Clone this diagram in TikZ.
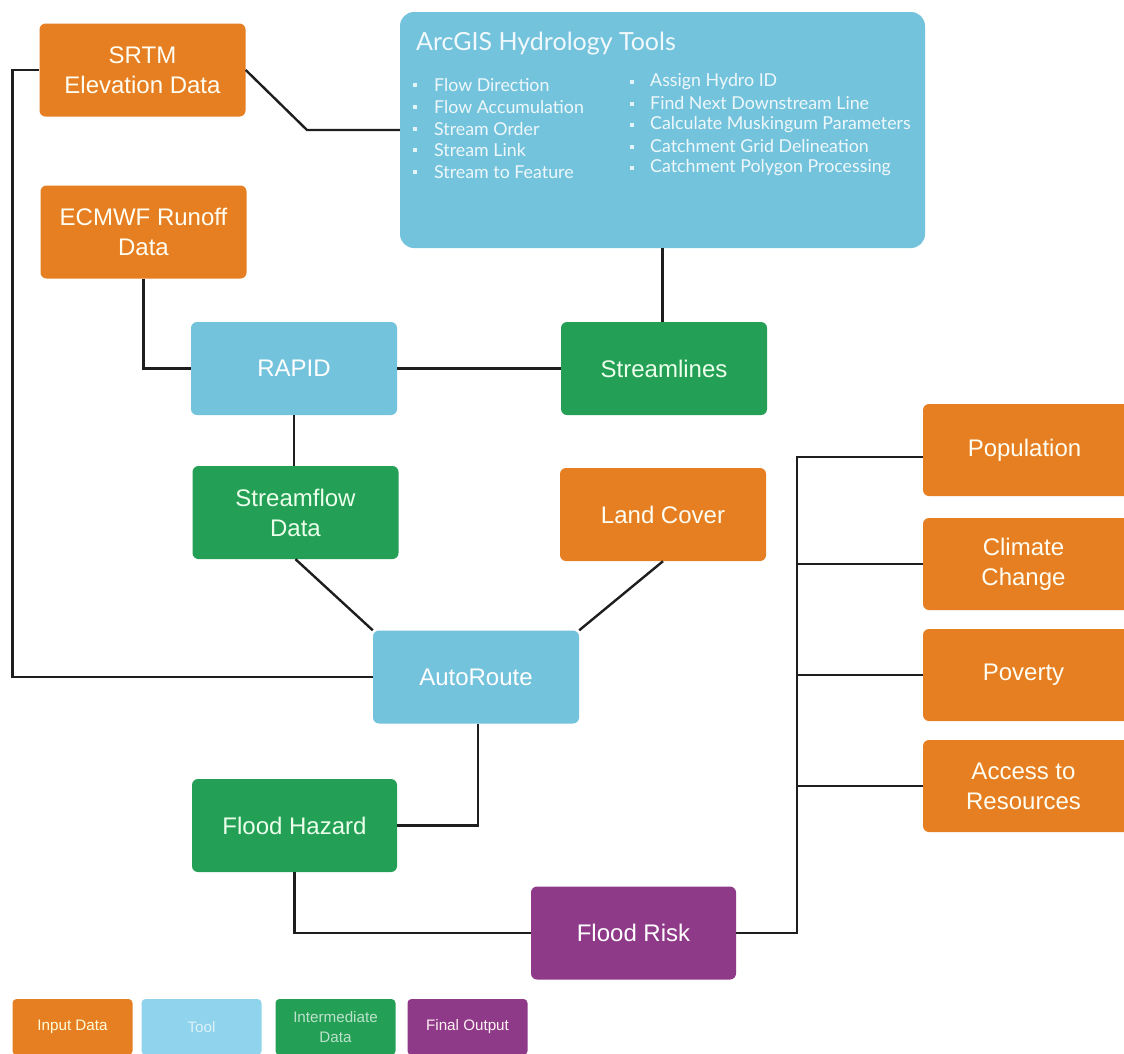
\documentclass[tikz,border=0pt]{standalone}
\usepackage{fontspec}
\setmainfont{Liberation Sans}
\newfontfamily\lato{Lato}
\usetikzlibrary{calc}
\definecolor{cOrange}{HTML}{E67E22}
\definecolor{cBlue}{HTML}{74C3DD}
\definecolor{cGreen}{HTML}{23A055}
\definecolor{cPurple}{HTML}{8E3A89}
\definecolor{cLegBlue}{HTML}{8FD3EC}
\definecolor{cLine}{HTML}{1E1E1E}
\tikzset{
  box/.style={rectangle, rounded corners=6pt, inner sep=0pt, align=center,
    minimum width=206pt, minimum height=93pt,
    font=\fontsize{24}{30}\selectfont},
  inbox/.style={box, fill=cOrange, text=white!95!yellow},
  toolbox/.style={box, fill=cBlue, text=white},
  midbox/.style={box, fill=cGreen, text=white!92!green},
  outbox/.style={box, fill=cPurple, text=white},
  legbox/.style={rectangle, rounded corners=4pt, inner sep=0pt, align=center,
    minimum width=120pt, minimum height=56pt, font=\fontsize{15.2}{20}\selectfont},
  item/.style={anchor=west, inner sep=0pt, text=white!88!cBlue,
    font=\lato\fontsize{17.8}{20}\selectfont},
  link/.style={draw=cLine, line width=2.4pt},
}
\begin{document}
\begin{tikzpicture}[x=1pt, y=-1pt]
\clip (0,0) rectangle (1124,1053);
\fill[white] (0,0) rectangle (1124,1053);

% nodes
\node[inbox] (srtm) at (142.5,70) {SRTM\\Elevation Data};
\node[inbox] (ecmwf) at (143.5,232) {ECMWF Runoff\\Data};
\node[toolbox, minimum width=525pt, minimum height=236pt, rounded corners=14pt] (arcgis) at (662.5,130) {};
\node[anchor=west, inner sep=0pt, text=white!90!cBlue, font=\lato\fontsize{25}{28}\selectfont] (arctitle) at (416,44) {ArcGIS Hydrology Tools};
\foreach \t [count=\i] in {Flow Direction, Flow Accumulation, Stream Order, Stream Link, Stream to Feature}{
  \fill[white!80!cBlue] (413,{61.5+21.7*\i}) rectangle ++(4,4);
  \node[item] (la\i) at (434,{63.5+21.7*\i}) {\t};
}
\foreach \t [count=\i] in {Assign Hydro ID, Find Next Downstream Line, Calculate Muskingum Parameters, Catchment Grid Delineation, Catchment Polygon Processing}{
  \fill[white!80!cBlue] (630,{58.5+21.5*\i}) rectangle ++(4,4);
  \node[item] (lb\i) at (650,{60.5+21.5*\i}) {\t};
}
\node[toolbox] (rapid) at (294,368.5) {RAPID};
\node[midbox] (streamlines) at (664,368.5) {Streamlines};
\node[midbox] (streamflow) at (295.5,512.5) {Streamflow\\Data};
\node[inbox] (landcover) at (663,514.5) {Land Cover};
\node[toolbox] (autoroute) at (476,677) {AutoRoute};
\node[midbox, minimum width=205pt] (floodhazard) at (294.5,825.5) {Flood Hazard};
\node[outbox, minimum width=205pt] (floodrisk) at (633.5,933) {Flood Risk};
\node[inbox, minimum width=207pt, minimum height=92pt] (population) at (1026.5,450) {\hspace*{-4pt}Population};
\node[inbox, minimum width=207pt, minimum height=92pt] (climate) at (1026.5,564) {\hspace*{-6pt}Climate\\\hspace*{-6pt}Change};
\node[inbox, minimum width=207pt, minimum height=92pt] (poverty) at (1026.5,675) {\hspace*{-6pt}Poverty};
\node[inbox, minimum width=207pt, minimum height=92pt] (access) at (1026.5,786) {\hspace*{-6pt}Access to\\\hspace*{-6pt}Resources};

% legend
\node[legbox, fill=cOrange, text=white!85!yellow] (legin) at (72.5,1027) {Input Data};
\node[legbox, fill=cLegBlue, text=white!70!cLegBlue] (legtool) at (201.5,1027) {Tool};
\node[legbox, fill=cGreen, text=white!70!cGreen] (legmid) at (335.5,1027) {Intermediate\\Data};
\node[legbox, fill=cPurple, text=white!80!pink] (legout) at (467.5,1027) {Final Output};

% connectors
\coordinate (kneeS) at (307,130);
\coordinate (bus) at (797,457);
\draw[link] (srtm.west) -- ++(-27,0) |- (autoroute.west);
\draw[link] (srtm.east) -- (kneeS) -- (arcgis.west);
\draw[link] (arcgis.south) -- (arcgis.south |- streamlines.north);
\draw[link] (ecmwf.south) |- (rapid.west);
\draw[link] (rapid.east) -- (streamlines.west);
\draw[link] (rapid.south) -- (rapid.south |- streamflow.north);
\draw[link] (streamflow.south) -- (autoroute.north west);
\draw[link] (landcover.south) -- (autoroute.north east);
\draw[link] ([xshift=2pt]autoroute.south) |- (floodhazard.east);
\draw[link] (floodhazard.south) |- (floodrisk.west);
\draw[link] (floodrisk.east) -| (bus) -- (bus -| population.west);
\draw[link] (bus |- climate.west) -- (climate.west);
\draw[link] (bus |- poverty.west) -- (poverty.west);
\draw[link] (bus |- access.west) -- (access.west);
\end{tikzpicture}
\end{document}
